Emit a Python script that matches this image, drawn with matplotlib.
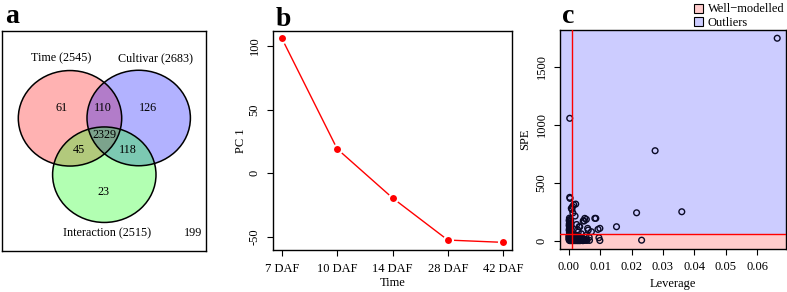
import matplotlib
matplotlib.use("Agg")
import matplotlib.pyplot as plt
from matplotlib.patches import Ellipse, Patch

plt.rcParams['font.family'] = ['Liberation Serif', 'DejaVu Serif']
plt.rcParams['axes.linewidth'] = 1.0

# ---------------- data ----------------
venn_sets = ["Time (2545)", "Cultivar (2683)", "Interaction (2515)"]
venn_counts = {"T": "61", "TC": "110", "C": "126", "TCI": "2329",
               "TI": "45", "CI": "118", "I": "23", "none": "199"}

time_labels = ["7 DAF", "10 DAF", "14 DAF", "28 DAF", "42 DAF"]
pc1 = [106, 19.2, -19.3, -52.4, -54.2]

leverage = [0.0664, 0.0003, 0.0275, 0.0360, 0.0216, 0.0152, 0.0232, 0.0086, 0.0093, 0.0096,
            0.0099, 0.0056, 0.0049, 0.0060, 0.0072, 0.0035, 0.0022, 0.0016, 0.0003, 0.0004,
            0.0010, 0.0020, 0.0013, 0.0051, 0.0046, 0.0083, 0.0033, 0.0062, 0.0099, 0.0028,
            0.0040, 0.0055, 0.0065, 0.0025, 0.0030, 0.0012, 0.0008,
            0.0002, 0.0004, 0.0001, 0.0003, 0.0005, 0.0002, 0.0004, 0.0001, 0.0003, 0.0006,
            0.0002, 0.0004, 0.0001, 0.0003, 0.0005, 0.0002, 0.0004, 0.0003, 0.0006, 0.0002,
            0.0003, 0.0008, 0.0013, 0.0018, 0.0023, 0.0028, 0.0033, 0.0038, 0.0043, 0.0050,
            0.0058, 0.0066,
            0.0001, 0.0005, 0.0010, 0.0015, 0.0020, 0.0025, 0.0030, 0.0035, 0.0041, 0.0047,
            0.0054,
            0.0002, 0.0007, 0.0012, 0.0017, 0.0022, 0.0027, 0.0032, 0.0037, 0.0042, 0.0048,
            0.0055,
            0.0001, 0.0006, 0.0011, 0.0016, 0.0021, 0.0026, 0.0031, 0.0036, 0.0044,
            0.0004, 0.0009, 0.0014, 0.0019, 0.0024, 0.0029, 0.0034, 0.0040, 0.0046,
            0.0001, 0.0006, 0.0011, 0.0016, 0.0021, 0.0026, 0.0032, 0.0038,
            0.0003, 0.0008, 0.0013, 0.0018, 0.0023, 0.0028, 0.0034, 0.0041,
            0.0001, 0.0005, 0.0010, 0.0015, 0.0020, 0.0025, 0.0031,
            0.0002, 0.0007, 0.0012, 0.0017, 0.0022, 0.0027, 0.0033,
            0.0001, 0.0006, 0.0011, 0.0016, 0.0022,
            0.0004, 0.0009, 0.0014, 0.0019, 0.0025,
            0.0001, 0.0005, 0.0010, 0.0016,
            0.0003, 0.0008, 0.0013, 0.0018,
            0.0004, 0.0009, 0.0014, 0.0020, 0.0026, 0.0031, 0.0036, 0.0045,
            0.0003, 0.0008, 0.0015, 0.0021, 0.0028, 0.0035]
spe = [1745, 1055, 776, 250, 241, 121, 5, 193, 98, 26,
       2, 184, 170, 107, 78, 121, 316, 310, 374, 365,
       270, 213, 240, 193, 172, 193, 121, 92, 107, 95,
       60, 45, 30, 140, 75, 295, 280,
       195, 185, 175, 165, 155, 148, 140, 132, 124, 116,
       108, 100, 92, 85, 78, 72, 66, 60, 170, 150,
       3, 3, 3, 3, 3, 3, 3, 3, 3, 3,
       3, 3,
       7, 7, 7, 7, 7, 7, 7, 7, 7, 7,
       7,
       11, 11, 11, 11, 11, 11, 11, 11, 11, 11,
       11,
       15, 15, 15, 15, 15, 15, 15, 15, 15,
       19, 19, 19, 19, 19, 19, 19, 19, 19,
       23, 23, 23, 23, 23, 23, 23, 23,
       27, 27, 27, 27, 27, 27, 27, 27,
       31, 31, 31, 31, 31, 31, 31,
       35, 35, 35, 35, 35, 35, 35,
       39, 39, 39, 39, 39,
       43, 43, 43, 43, 43,
       47, 47, 47, 47,
       51, 51, 51, 51,
       1, 1, 1, 1, 1, 1, 1, 1,
       5, 5, 5, 5, 5, 5]
lev_limit = 0.001
spe_limit = 55

# ---------------- figure ----------------
W, H = 787, 292
fig = plt.figure(figsize=(W / 100, H / 100), dpi=100)

def ax_px(x0, y0, x1, y1):
    return fig.add_axes([x0 / W, 1 - y1 / H, (x1 - x0) / W, (y1 - y0) / H])

FS = 9

# ---- panel a: Venn ----
axa = ax_px(2, 30.7, 206, 250.7)
axa.set_xlim(2, 206)
axa.set_ylim(250.7, 30.7)
axa.set_xticks([])
axa.set_yticks([])
circles = [((70, 118.3), 'red'), ((138.7, 118), 'blue'), ((104.3, 174.7), 'lime')]
for (c, col) in circles:
    axa.add_patch(Ellipse(c, 103.4, 95.5, facecolor=col, alpha=0.3, edgecolor='none'))
for (c, col) in circles:
    axa.add_patch(Ellipse(c, 103.4, 95.5, facecolor='none', edgecolor='black', lw=1.1))
axa.text(61.5, 58.3, venn_sets[0], ha='center', va='center', fontsize=8.7)
axa.text(155, 58.3, venn_sets[1], ha='center', va='center', fontsize=8.7)
axa.text(106.7, 233.3, venn_sets[2], ha='center', va='center', fontsize=8.7)
pos = {"T": (61.7, 108.3), "TC": (103.3, 108.3), "C": (148.3, 108.3),
       "TCI": (104.3, 135), "TI": (79, 150), "CI": (128.3, 150),
       "I": (103.3, 191.7), "none": (193.3, 233.3)}
for k, (x, y) in pos.items():
    axa.text(x, y, venn_counts[k], ha='center', va='center', fontsize=8.7)

# ---- panel b: PC1 over time ----
axb = ax_px(273, 31, 512, 250)
xs = list(range(1, len(time_labels) + 1))
axb.plot(xs, pc1, color='red', lw=1.0, marker='o', markersize=6.5,
         markerfacecolor='red', markeredgecolor='white', markeredgewidth=1.5)
axb.set_xlim(0.84, 5.16)
axb.set_ylim(-60.2, 111.8)
axb.set_xticks(xs)
axb.set_xticklabels(time_labels, fontsize=FS)
axb.set_yticks([-50, 0, 50, 100])
axb.set_yticklabels(['-50', '0', '50', '100'], fontsize=FS, rotation=90, va='center')
axb.tick_params(length=4.5, width=0.8, pad=4.5)
axb.set_xlabel('Time', fontsize=FS, labelpad=2)
axb.set_ylabel('PC 1', fontsize=FS, labelpad=1)

# ---- panel c: SPE vs leverage ----
axc = ax_px(560, 30, 786, 249)
xmin, xmax = -0.0028, 0.0692
ymin, ymax = -71, 1816
axc.set_xlim(xmin, xmax)
axc.set_ylim(ymin, ymax)
axc.axhspan(ymin, spe_limit, color='#FFCCCC', zorder=0, lw=0)
axc.axhspan(spe_limit, ymax, color='#CCCCFF', zorder=0, lw=0)
axc.scatter(leverage, spe, s=17, facecolors='none', edgecolors='#0a0a26', linewidths=1.0, zorder=2)
axc.axvline(lev_limit, color='red', lw=1.0, zorder=3)
axc.axhline(spe_limit, color='red', lw=1.0, zorder=3)
axc.set_xticks([0, 0.01, 0.02, 0.03, 0.04, 0.05, 0.06])
axc.set_xticklabels(['0.00', '0.01', '0.02', '0.03', '0.04', '0.05', '0.06'], fontsize=FS)
axc.set_yticks([0, 500, 1000, 1500])
axc.set_yticklabels(['0', '500', '1000', '1500'], fontsize=FS, rotation=90, va='center')
axc.tick_params(length=4.5, width=0.8, pad=4.5)
axc.set_xlabel('Leverage', fontsize=FS, labelpad=3)
axc.set_ylabel('SPE', fontsize=FS, labelpad=3)

handles = [Patch(facecolor='#FFCCCC', edgecolor='black', lw=0.8, label='Well\u2212modelled'),
           Patch(facecolor='#CCCCFF', edgecolor='black', lw=0.8, label='Outliers')]
fig.legend(handles=handles, loc='upper left', bbox_to_anchor=(691 / W, 1 - 1 / H),
           frameon=False, fontsize=FS, handlelength=0.75, handleheight=0.75,
           handletextpad=0.4, labelspacing=0.12, borderpad=0.2, borderaxespad=0)

# panel letters
fig.text(5 / W, 1 - 23 / H, 'a', fontsize=20, fontweight='bold', va='baseline')
fig.text(276 / W, 1 - 26 / H, 'b', fontsize=20, fontweight='bold', va='baseline')
fig.text(562 / W, 1 - 23 / H, 'c', fontsize=20, fontweight='bold', va='baseline')

fig.savefig('out.png', dpi=100)
